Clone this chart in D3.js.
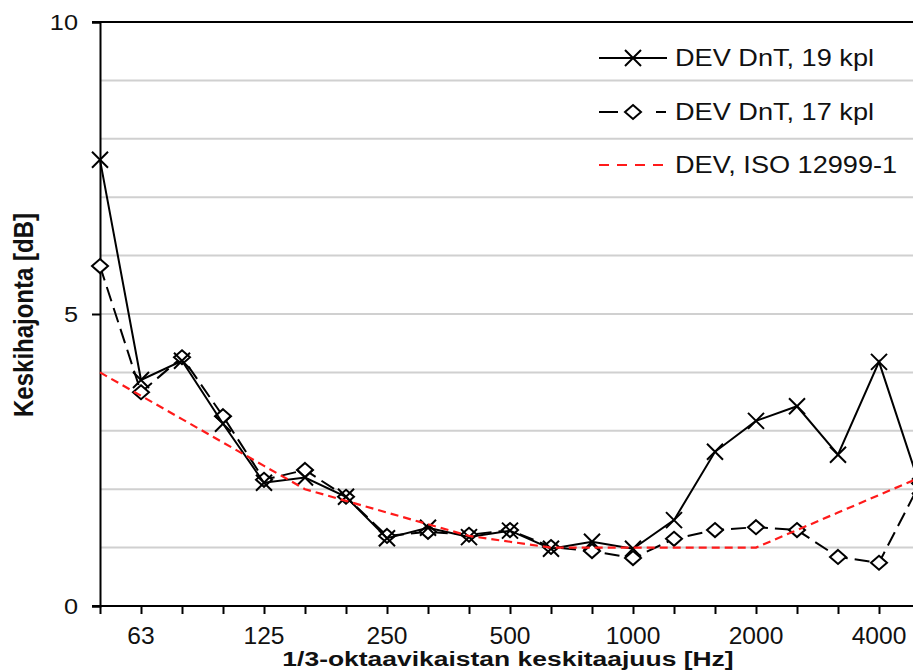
<!DOCTYPE html>
<html>
<head>
<meta charset="utf-8">
<script src="https://cdn.jsdelivr.net/npm/d3@7"></script>
<style>
  body { margin: 0; background: #fff; }
  svg { display: block; font-family: "Liberation Sans", Arial, sans-serif; overflow: hidden; }
</style>
</head>
<body>
<div id="chart"></div>
<script>
// 1/3 octave bands, Hz
var bands = ["50", "63", "80", "100", "125", "160", "200", "250", "315", "400", "500",
	"630", "800", "1000", "1250", "1600", "2000", "2500", "3150", "4000", "5000"];
var labelledBands = ["63", "125", "250", "500", "1000", "2000", "4000"];

// standard deviation, dB
var dev19 = [7.64, 3.87, 4.2, 3.12, 2.11, 2.2, 1.87, 1.16, 1.34, 1.18, 1.29,
	0.98, 1.1, 0.98, 1.47, 2.64, 3.17, 3.42, 2.59, 4.18, 2.05];
var dev17 = [5.82, 3.66, 4.26, 3.25, 2.16, 2.33, 1.87, 1.2, 1.27, 1.22, 1.3,
	1.01, 0.94, 0.82, 1.15, 1.3, 1.35, 1.3, 0.84, 0.74, 2.1];
var devIso = [4.0, 3.6, 3.2, 2.8, 2.4, 2.0, 1.8, 1.6, 1.4, 1.2, 1.1,
	1.0, 1.0, 1.0, 1.0, 1.0, 1.0, 1.3, 1.6, 1.9, 2.2];

var yTicks = [0, 5, 10];
var yGrid = [1, 2, 3, 4, 5, 6, 7, 8, 9];

var seriesNames = ["DEV DnT, 19 kpl", "DEV DnT, 17 kpl", "DEV, ISO 12999-1"];

var width = 913, height = 670;
var plotLeft = 100, plotTop = 22, plotBottom = 606;

var svg = d3.select("#chart").append("svg")
	.attr("width", width)
	.attr("height", height);

var x = d3.scalePoint()
	.domain(bands)
	.range([plotLeft, plotLeft + 41 * (bands.length - 1)]);

var y = d3.scaleLinear()
	.domain([0, 10])
	.range([plotBottom, plotTop]);

// text that is a bit wider than the font (the original picture is stretched sideways)
function wideText(parent, tx, ty, str, size, sx, anchor, weight) {
	return parent.append("text")
		.attr("transform", "translate(" + tx + "," + ty + ") scale(" + sx + ",1)")
		.attr("text-anchor", anchor || "start")
		.style("font-size", size + "px")
		.style("font-weight", weight || "normal")
		.style("fill", "#111")
		.text(str);
}

// gridlines
svg.append("g")
	.selectAll("line")
	.data(yGrid)
	.enter().append("line")
	.attr("x1", plotLeft).attr("x2", width)
	.attr("y1", function (d) { return y(d); })
	.attr("y2", function (d) { return y(d); })
	.style("stroke", "#d0d0d0")
	.style("stroke-width", 2);

// top border
svg.append("line")
	.attr("x1", plotLeft - 8).attr("x2", width)
	.attr("y1", y(10)).attr("y2", y(10))
	.style("stroke", "#000").style("stroke-width", 2);

// y axis
var yAxis = svg.append("g")
	.attr("transform", "translate(" + plotLeft + ",0)")
	.call(d3.axisLeft(y).tickValues(yTicks).tickSize(8).tickFormat(""));
yAxis.select(".domain").style("stroke-width", 2);
yAxis.selectAll(".tick line").style("stroke-width", 2);
yTicks.forEach(function (t) {
	wideText(svg, 78, y(t) + 8, String(t), 22, 1.15, "end");
});

// x axis
var xAxis = svg.append("g")
	.attr("transform", "translate(0," + plotBottom + ")")
	.call(d3.axisBottom(x).tickSize(8).tickFormat(""));
xAxis.select(".domain").attr("d", "M" + (plotLeft - 8) + ",0H" + (width + 20)).style("stroke-width", 2);
xAxis.selectAll(".tick line").style("stroke-width", 2);
labelledBands.forEach(function (b) {
	wideText(svg, x(b), 644, b, 23, 1.07, "middle");
});

// axis titles
wideText(svg, 508, 666, "1/3-oktaavikaistan keskitaajuus [Hz]", 21, 1.26, "middle", "bold");

svg.append("text")
	.attr("transform", "translate(33,315) rotate(-90) scale(1,1.12)")
	.attr("text-anchor", "middle")
	.style("font-size", "24px").style("font-weight", "bold")
	.style("fill", "#111")
	.text("Keskihajonta [dB]");

var line = d3.line()
	.x(function (d, i) { return x(bands[i]); })
	.y(function (d) { return y(d); });

function crossPath(cx, cy) {
	var s = 8;
	return "M" + (cx - s) + "," + (cy - s) + "L" + (cx + s) + "," + (cy + s) +
		"M" + (cx - s) + "," + (cy + s) + "L" + (cx + s) + "," + (cy - s);
}
function diamondPath(cx, cy) {
	var w = 8, h = 7;
	return "M" + cx + "," + (cy - h) + "L" + (cx + w) + "," + cy + "L" + cx + "," + (cy + h) +
		"L" + (cx - w) + "," + cy + "Z";
}

// 17 kpl series (dashed with diamonds)
svg.append("path")
	.datum(dev17)
	.attr("d", line)
	.style("fill", "none").style("stroke", "#000").style("stroke-width", 2)
	.style("stroke-dasharray", "15,7");
svg.selectAll(".dia")
	.data(dev17)
	.enter().append("path")
	.attr("class", "dia")
	.attr("d", function (d, i) { return diamondPath(x(bands[i]), y(d)); })
	.style("fill", "#fff").style("stroke", "#000").style("stroke-width", 2);

// 19 kpl series (solid with crosses)
svg.append("path")
	.datum(dev19)
	.attr("d", line)
	.style("fill", "none").style("stroke", "#000").style("stroke-width", 2);
svg.selectAll(".cross")
	.data(dev19)
	.enter().append("path")
	.attr("class", "cross")
	.attr("d", function (d, i) { return crossPath(x(bands[i]), y(d)); })
	.style("fill", "none").style("stroke", "#000").style("stroke-width", 2);

// ISO 12999-1
svg.append("path")
	.datum(devIso)
	.attr("d", line)
	.style("fill", "none").style("stroke", "#ff1a1a").style("stroke-width", 2.2)
	.style("stroke-dasharray", "8,5");

// legend
var legend = svg.append("g");
var legY = [58, 112, 165];

legend.append("line")
	.attr("x1", 599).attr("x2", 667).attr("y1", legY[0]).attr("y2", legY[0])
	.style("stroke", "#000").style("stroke-width", 2);
legend.append("path")
	.attr("d", crossPath(633, legY[0]))
	.style("fill", "none").style("stroke", "#000").style("stroke-width", 2);

legend.append("line")
	.attr("x1", 599).attr("x2", 667).attr("y1", legY[1]).attr("y2", legY[1])
	.style("stroke", "#000").style("stroke-width", 2)
	.style("stroke-dasharray", "19,38,10");
legend.append("path")
	.attr("d", diamondPath(633, legY[1]))
	.style("fill", "#fff").style("stroke", "#000").style("stroke-width", 2);

legend.append("line")
	.attr("x1", 599).attr("x2", 665).attr("y1", legY[2]).attr("y2", legY[2])
	.style("stroke", "#ff1a1a").style("stroke-width", 2.2)
	.style("stroke-dasharray", "10,8");

seriesNames.forEach(function (name, i) {
	wideText(legend, 675, legY[i] + 8, name, 23, 1.18, "start");
});
</script>
</body>
</html>
